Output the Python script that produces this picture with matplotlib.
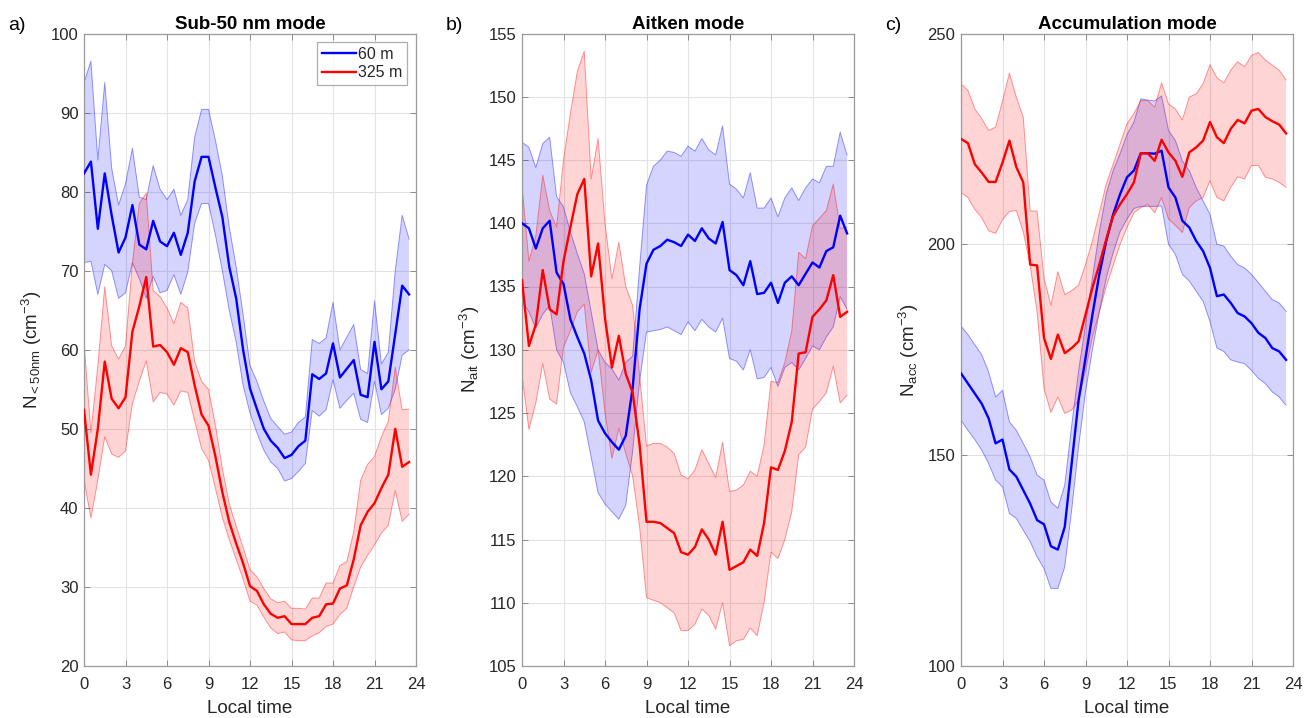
import numpy as np
import matplotlib
matplotlib.use("Agg")
import matplotlib.pyplot as plt

plt.rcParams["font.family"] = ["Liberation Sans", "DejaVu Sans"]
plt.rcParams["mathtext.fontset"] = "custom"
plt.rcParams["mathtext.rm"] = "Liberation Sans"
plt.rcParams["mathtext.it"] = "Liberation Sans:italic"
plt.rcParams["mathtext.bf"] = "Liberation Sans:bold"

# half-hourly local time
hours = np.arange(0, 24, 0.5)

# ---- Sub-50 nm mode ----
sub50_60m = [82.3, 83.8, 75.3, 82.3, 77.0, 72.3, 74.2, 78.3, 73.3, 72.7, 76.3, 73.7, 73.1, 74.8, 72.0, 74.8,
             81.3, 84.4, 84.4, 80.5, 76.8, 70.5, 66.5, 60.0, 55.1, 52.5, 50.0, 48.5, 47.6, 46.3, 46.7, 47.8,
             48.5, 56.9, 56.3, 57.0, 60.8, 56.5, 57.6, 58.7, 54.3, 54.0, 61.0, 55.0, 56.0, 62.0, 68.1, 67.0]
sub50_60m_hi = [93.8, 96.5, 84.0, 93.8, 83.0, 78.3, 81.0, 85.5, 79.3, 79.0, 83.3, 80.3, 79.0, 80.3, 77.0, 79.0,
                86.9, 90.4, 90.4, 86.5, 82.0, 75.5, 70.5, 64.5, 58.0, 56.0, 53.5, 51.3, 50.3, 49.3, 49.6, 50.8,
                51.5, 61.3, 60.8, 61.5, 66.0, 60.0, 61.6, 63.2, 57.5, 57.0, 66.2, 58.2, 59.7, 70.0, 77.0, 74.0]
sub50_60m_lo = [71.0, 71.2, 67.0, 70.8, 70.0, 66.5, 67.2, 71.0, 69.0, 66.5, 69.3, 67.2, 67.5, 69.5, 67.0, 69.8,
                76.0, 78.5, 78.5, 74.5, 70.0, 65.0, 61.0, 55.5, 52.0, 49.5, 47.3, 45.8, 45.0, 43.4, 43.7, 44.6,
                45.6, 52.3, 51.6, 52.4, 56.2, 52.6, 53.6, 54.5, 51.2, 50.8, 56.0, 51.8, 52.6, 55.0, 59.3, 60.0]
sub50_325m = [52.4, 44.2, 50.0, 58.5, 53.8, 52.6, 54.0, 62.3, 65.5, 69.2, 60.4, 60.6, 59.7, 58.1, 60.2, 59.7,
              55.5, 51.8, 50.4, 46.5, 42.0, 38.2, 35.5, 33.0, 30.1, 29.5, 27.8, 26.6, 26.1, 26.3, 25.3, 25.3,
              25.3, 26.1, 26.3, 27.8, 27.9, 29.8, 30.2, 33.5, 37.8, 39.5, 40.6, 42.5, 44.2, 50.0, 45.2, 45.8]
sub50_325m_hi = [61.0, 49.5, 58.0, 68.0, 60.5, 58.8, 60.5, 71.0, 78.5, 79.8, 67.5, 66.7, 65.3, 63.3, 66.0, 65.3,
                 58.5, 56.0, 55.0, 50.5, 45.0, 40.5, 37.7, 35.0, 32.2, 31.3, 29.8, 28.5, 28.0, 28.2, 27.3, 27.3,
                 27.2, 28.6, 28.6, 30.5, 30.5, 32.7, 33.2, 37.0, 43.5, 45.5, 46.5, 49.0, 51.0, 57.8, 52.4, 52.5]
sub50_325m_lo = [43.5, 38.7, 43.5, 49.0, 46.8, 46.4, 47.2, 53.2, 56.0, 58.6, 53.4, 54.6, 54.4, 53.0, 54.8, 54.6,
                 51.0, 47.5, 46.0, 42.5, 38.8, 36.0, 33.5, 31.0, 28.2, 27.7, 26.2, 24.8, 24.1, 24.3, 23.3, 23.2,
                 23.2, 23.8, 24.2, 25.0, 25.3, 26.5, 27.3, 30.0, 32.5, 34.0, 35.3, 36.8, 37.8, 42.2, 38.3, 39.2]

# ---- Aitken mode ----
ait_60m = [140.0, 139.6, 138.0, 139.6, 140.2, 136.1, 135.2, 132.4, 131.0, 129.7, 127.6, 124.4, 123.4, 122.7, 122.1, 123.2,
           127.0, 133.2, 136.8, 137.9, 138.2, 138.7, 138.5, 138.2, 139.1, 138.6, 139.6, 138.8, 138.4, 140.1, 136.3, 135.9,
           135.1, 137.0, 134.4, 134.5, 135.3, 133.7, 135.3, 135.8, 135.1, 136.0, 136.9, 136.5, 137.8, 138.1, 140.6, 139.2]
ait_60m_hi = [146.4, 146.0, 144.4, 146.3, 146.8, 142.1, 141.3, 139.3, 137.6, 136.0, 133.0, 130.0, 129.0, 128.5, 127.6, 129.0,
              129.5, 136.5, 143.0, 144.5, 145.0, 145.7, 145.6, 145.3, 146.1, 145.7, 146.7, 145.8, 145.4, 147.7, 143.1, 142.7,
              142.0, 144.0, 141.2, 141.2, 142.0, 140.5, 142.0, 142.8, 141.8, 142.8, 143.5, 143.2, 144.5, 144.5, 147.2, 145.4]
ait_60m_lo = [133.8, 133.0, 131.7, 132.8, 133.5, 130.0, 129.0, 126.6, 125.5, 124.3, 121.5, 118.7, 117.8, 117.2, 116.6, 117.7,
              122.0, 127.5, 131.4, 131.5, 131.6, 131.8, 131.5, 131.2, 132.2, 131.5, 132.4, 131.8, 131.4, 132.5, 129.3, 129.1,
              128.4, 130.0, 127.7, 127.8, 128.6, 127.1, 128.6, 129.0, 128.4, 129.3, 130.3, 130.0, 131.0, 131.8, 134.2, 133.2]
ait_325m = [135.5, 130.3, 132.0, 136.3, 133.2, 132.8, 137.0, 139.7, 142.3, 143.5, 135.8, 138.4, 132.5, 128.6, 131.1, 128.1,
            126.6, 122.5, 116.4, 116.4, 116.3, 115.9, 115.5, 114.0, 113.8, 114.4, 115.8, 115.0, 113.8, 116.4, 112.6, 112.9,
            113.2, 114.2, 113.7, 116.3, 120.7, 120.5, 122.0, 124.3, 129.7, 129.8, 132.6, 133.2, 133.9, 135.9, 132.6, 133.0]
ait_325m_hi = [143.0, 137.0, 139.0, 143.8, 141.0, 139.7, 145.0, 148.7, 152.0, 153.6, 143.5, 146.7, 140.0, 135.6, 138.5, 135.0,
               133.5, 128.0, 122.4, 122.6, 122.6, 122.3, 121.8, 120.1, 119.8, 120.5, 122.1, 121.0, 119.9, 122.7, 118.8, 118.9,
               119.3, 120.4, 120.0, 122.5, 127.5, 127.4, 129.0, 131.5, 137.7, 137.2, 139.8, 140.4, 141.0, 143.1, 139.6, 139.7]
ait_325m_lo = [128.0, 123.7, 125.8, 128.9, 126.1, 125.7, 130.2, 131.5, 133.0, 133.6, 128.2, 130.0, 125.0, 121.4, 123.8, 121.8,
               120.0, 116.0, 110.4, 110.2, 110.0, 109.6, 109.2, 107.8, 107.8, 108.3, 109.5, 109.0, 107.9, 110.0, 106.6, 107.0,
               107.1, 108.0, 107.4, 110.0, 114.0, 113.5, 115.0, 117.2, 121.7, 122.3, 125.3, 125.9, 126.6, 128.7, 125.8, 126.4]

# ---- Accumulation mode ----
acc_60m = [169.4, 167.0, 164.6, 162.2, 158.7, 152.8, 153.7, 146.6, 144.9, 141.7, 138.5, 134.6, 133.6, 128.4, 127.6, 133.0,
           148.0, 163.0, 173.0, 183.3, 192.9, 200.8, 207.1, 211.9, 215.9, 217.5, 221.6, 221.6, 221.5, 222.2, 213.5, 211.1,
           205.6, 204.0, 200.8, 198.4, 194.4, 187.7, 188.1, 186.1, 183.7, 182.9, 181.3, 179.0, 177.8, 175.4, 174.6, 172.6]
acc_60m_hi = [180.6, 178.6, 176.2, 173.8, 169.7, 163.8, 165.4, 157.9, 155.9, 152.8, 149.6, 145.3, 144.1, 138.9, 137.4, 142.9,
              157.0, 170.0, 181.0, 192.0, 203.0, 212.0, 217.5, 221.5, 226.0, 229.0, 234.5, 234.2, 234.0, 235.2, 227.0, 224.6,
              219.8, 217.5, 213.5, 210.3, 207.1, 200.0, 199.6, 197.2, 195.2, 194.4, 192.9, 190.9, 188.9, 186.9, 186.1, 184.1]
acc_60m_lo = [158.3, 155.9, 153.7, 151.2, 148.0, 144.1, 142.5, 136.2, 135.0, 132.2, 129.5, 125.9, 123.1, 118.4, 118.4, 123.5,
              137.0, 152.0, 165.0, 175.0, 184.0, 192.0, 198.0, 203.0, 206.0, 208.5, 209.0, 209.0, 209.0, 209.1, 200.0, 197.6,
              192.9, 191.3, 188.9, 186.5, 181.7, 175.4, 174.6, 172.6, 172.1, 171.7, 170.1, 168.2, 167.0, 165.0, 163.8, 161.8]
acc_325m = [225.0, 224.0, 219.0, 217.0, 214.8, 214.8, 219.4, 224.6, 218.3, 214.7, 195.2, 195.0, 177.8, 172.8, 178.6, 174.2,
            175.4, 177.0, 183.3, 189.7, 195.2, 201.2, 206.7, 209.5, 211.9, 214.7, 221.6, 221.6, 219.8, 224.8, 221.8, 219.8,
            216.0, 221.8, 223.0, 224.6, 229.0, 225.4, 224.0, 227.4, 229.5, 228.7, 231.7, 232.1, 230.2, 229.2, 228.4, 226.3]
acc_325m_hi = [238.1, 236.5, 232.1, 229.8, 227.0, 227.8, 234.0, 240.6, 234.9, 230.2, 207.9, 207.9, 192.0, 185.5, 193.5, 188.1,
               189.0, 190.3, 195.2, 200.8, 207.5, 214.3, 219.0, 223.8, 228.6, 231.0, 234.1, 234.1, 232.5, 238.3, 233.3, 232.1,
               229.5, 234.9, 235.7, 238.1, 242.6, 239.5, 238.3, 241.3, 243.3, 242.1, 244.8, 245.5, 243.7, 242.5, 241.3, 239.0]
acc_325m_lo = [212.3, 211.1, 208.3, 206.3, 203.2, 202.6, 205.9, 207.8, 208.0, 203.0, 195.0, 184.0, 165.8, 160.1, 163.8, 159.9,
               160.7, 163.0, 170.0, 178.0, 184.0, 190.0, 195.0, 200.0, 204.0, 207.5, 208.7, 209.5, 207.5, 211.1, 206.0, 204.5,
               202.8, 208.7, 210.3, 211.1, 215.1, 211.1, 210.3, 213.5, 216.0, 215.5, 218.7, 218.7, 215.9, 215.5, 214.7, 213.5]

panels = [
    dict(tag="a)", title="Sub-50 nm mode", ylabel=r"N$_{\mathrm{<50nm}}$ (cm$^{\mathrm{-3}}$)",
         ylim=(20, 100), yticks=np.arange(20, 101, 10),
         series=[(sub50_60m, sub50_60m_lo, sub50_60m_hi), (sub50_325m, sub50_325m_lo, sub50_325m_hi)]),
    dict(tag="b)", title="Aitken mode", ylabel=r"N$_{\mathrm{ait}}$ (cm$^{\mathrm{-3}}$)",
         ylim=(105, 155), yticks=np.arange(105, 156, 5),
         series=[(ait_60m, ait_60m_lo, ait_60m_hi), (ait_325m, ait_325m_lo, ait_325m_hi)]),
    dict(tag="c)", title="Accumulation mode", ylabel=r"N$_{\mathrm{acc}}$ (cm$^{\mathrm{-3}}$)",
         ylim=(100, 250), yticks=np.arange(100, 251, 50),
         series=[(acc_60m, acc_60m_lo, acc_60m_hi), (acc_325m, acc_325m_lo, acc_325m_hi)]),
]

labels = ["60 m", "325 m"]
colors = ["#0000ff", "#ff0000"]

W, H = 1306, 718
fig = plt.figure(figsize=(W / 100, H / 100), dpi=100)
lefts = [84, 522, 961]
ax_w, ax_top, ax_bot = 332, 33.5, 666
text_col = "#262626"

for p, left in zip(panels, lefts):
    ax = fig.add_axes([left / W, 1 - ax_bot / H, ax_w / W, (ax_bot - ax_top) / H])
    handles = []
    for (mean, lo, hi), c, lab in zip(p["series"], colors, labels):
        ax.fill_between(hours, lo, hi, facecolor=c, alpha=0.17, edgecolor="none", zorder=2)
        ax.plot(hours, hi, color=c, lw=0.7, alpha=0.4, zorder=2)
        ax.plot(hours, lo, color=c, lw=0.7, alpha=0.4, zorder=2)
        h, = ax.plot(hours, mean, color=c, lw=1.7, zorder=3, label=lab)
        handles.append(h)
    ax.set_xlim(0, 24)
    ax.set_ylim(*p["ylim"])
    ax.set_xticks(np.arange(0, 25, 3))
    ax.set_yticks(p["yticks"])
    ax.grid(True, color="#e3e3e3", lw=0.8, zorder=0)
    ax.set_axisbelow(True)
    ax.tick_params(direction="in", length=4, width=0.7, colors="#8c8c8c",
                   labelcolor=text_col, labelsize=12, top=True, right=True, pad=4)
    ax.tick_params(axis="x", pad=8)
    for s in ax.spines.values():
        s.set_color("#9a9a9a")
        s.set_linewidth(0.9)
    ax.set_title(p["title"], fontsize=13.5, fontweight="bold", color="black", pad=3)
    ax.set_xlabel("Local time", fontsize=13.5, color=text_col, labelpad=6)
    ax.set_ylabel(p["ylabel"], fontsize=13.5, color=text_col, labelpad=5)
    fig.text((left - 76) / W, 1 - 25 / H, p["tag"], fontsize=14, color="black",
             ha="left", va="center")
    if p["tag"] == "a)":
        leg = ax.legend(handles=handles, loc="upper right", fontsize=11.5, frameon=True,
                        fancybox=False, handlelength=2.1, handletextpad=0.15,
                        borderpad=0.3, labelspacing=0.2, borderaxespad=0.55)
        leg.get_frame().set_edgecolor("#9a9a9a")
        leg.get_frame().set_linewidth(0.9)
        for t in leg.get_texts():
            t.set_color(text_col)

fig.savefig("out.png", dpi=100)
